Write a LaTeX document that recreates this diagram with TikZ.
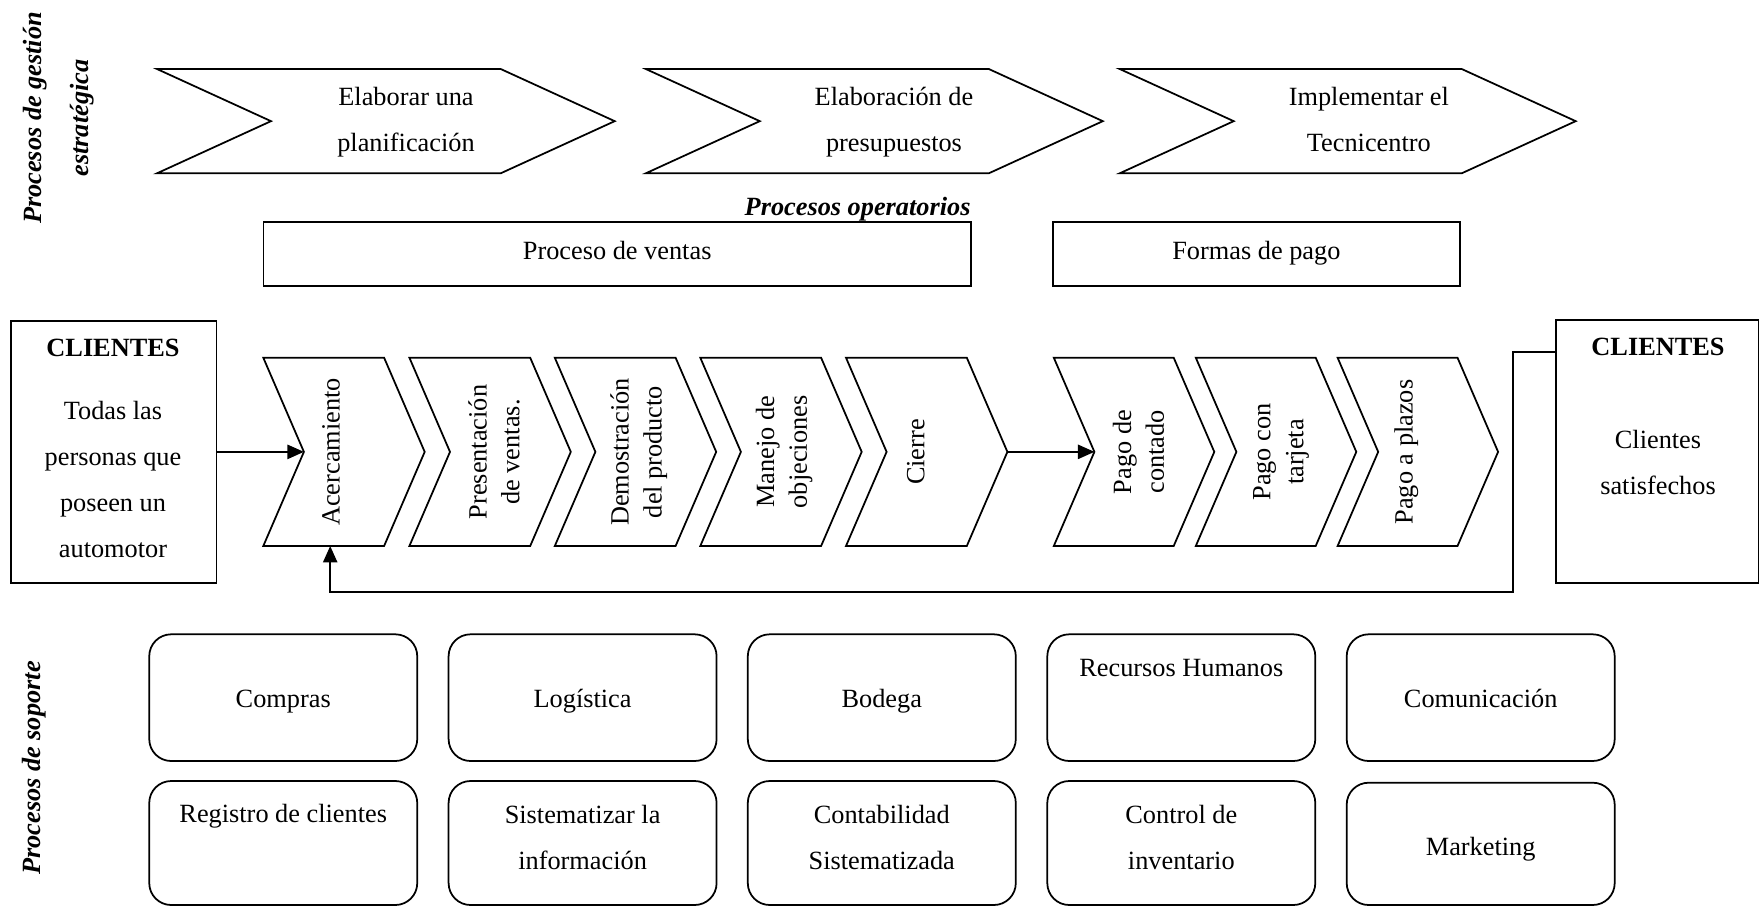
\documentclass[tikz,border=0pt]{standalone}
\usepackage{fontspec}
\setmainfont{Liberation Serif}
\usetikzlibrary{arrows.meta}
\def\pxunit{0.456pt}
\newcommand{\sst}{\rule[-3pt]{0pt}{13.6pt}}
\newcommand{\chevshape}[6]{%
  \draw[shapeline] (#2,#3) -- ({#2+#4-#6},#3) -- ({#2+#4},{#3+#5/2}) -- ({#2+#4-#6},{#3+#5}) -- (#2,{#3+#5}) -- ({#2+#6},{#3+#5/2}) -- cycle;
  \coordinate (#1-n) at ({#2+#6},{#3+#5/2});
  \coordinate (#1-t) at ({#2+#4},{#3+#5/2});
}
\begin{document}
\begin{tikzpicture}[x=0.456pt, y=-0.456pt,
  every node/.style={font=\fontsize{12}{21}\selectfont},
  shapeline/.style={draw=black, line width=0.8pt},
  box/.style={draw, line width=0.8pt, inner sep=0pt, outer sep=0pt},
  soft/.style={box, rounded corners=10pt, minimum width=268*\pxunit},
  lbl/.style={align=center, inner sep=0pt, execute at begin node=\sst, execute at end node=\sst},
  vlbl/.style={align=center, inner sep=0pt, rotate=90, font=\fontsize{12}{15}\selectfont},
  side/.style={align=center, inner sep=0pt, rotate=90, font=\fontsize{12}{21.8}\selectfont\bfseries\itshape},
  arr/.style={line width=0.8pt, -{Triangle[length=7.5pt,width=6.5pt]}}
]
\useasboundingbox (0,0) rectangle (1759,906);

% side labels
\node[side] (lg) at (58.7,118) {Procesos de gestión\\estratégica};
\node[side] (ls) at (34.4,768) {Procesos de soporte};

% strategic chevrons
\chevshape{g1}{157}{69}{457.7}{104.3}{114}
\chevshape{g2}{645.8}{69}{457}{104.3}{114}
\chevshape{g3}{1119.7}{69}{456}{104.3}{114}
\node[lbl] (g1t) at (406,122.7) {Elaborar una\\planificación};
\node[lbl] (g2t) at (894,122.7) {Elaboración de\\presupuestos};
\node[lbl] (g3t) at (1368.8,122.7) {Implementar el\\Tecnicentro};

% operative
\node[lbl, anchor=east, font=\fontsize{12}{14}\selectfont\bfseries\itshape] (op) at (971,206.8) {Procesos operatorios};
\node[box, minimum width=707.6*\pxunit, minimum height=63.4*\pxunit] (pv) at (617.2,254) {};
\node[lbl] (pvt) at (617.2,251) {Proceso de ventas};
\node[box, minimum width=406.7*\pxunit, minimum height=63.4*\pxunit] (fp) at (1256.4,254) {};
\node[lbl] (fpt) at (1256.4,251) {Formas de pago};

% clients boxes
\node[box, minimum width=205.9*\pxunit, minimum height=262.6*\pxunit] (cl) at (113.6,452) {};
\node[lbl, font=\fontsize{12}{14}\selectfont\bfseries] (clh) at (113,347.7) {CLIENTES};
\node[lbl] (clb) at (113,482.5) {Todas las\\personas que\\poseen un\\automotor};
\node[box, minimum width=203*\pxunit, minimum height=262.7*\pxunit] (cr) at (1657.4,451.3) {};
\node[lbl, font=\fontsize{12}{14}\selectfont\bfseries] (crh) at (1658,346.7) {CLIENTES};
\node[lbl] (crb) at (1658,466) {Clientes\\satisfechos};

% vertical chevrons
\chevshape{v1}{263.3}{357.7}{161.4}{188.3}{40.6}
\chevshape{v2}{409.4}{357.7}{161.4}{188.3}{40.6}
\chevshape{v3}{554.8}{357.7}{161.4}{188.3}{40.6}
\chevshape{v4}{700.3}{357.7}{161.4}{188.3}{40.6}
\chevshape{v5}{846.0}{357.7}{161.4}{188.3}{40.6}
\chevshape{v6}{1053.8}{357.7}{160.5}{188.3}{40.6}
\chevshape{v7}{1195.8}{357.7}{160.5}{188.3}{40.6}
\chevshape{v8}{1337.6}{357.7}{160.5}{188.3}{40.6}
\node[vlbl] (v1t) at (331,452) {Acercamiento};
\node[vlbl] (v2t) at (494,452) {Presentación\\de ventas.};
\node[vlbl] (v3t) at (638.7,452) {Demostración\\del producto};
\node[vlbl] (v4t) at (784.2,452) {Manejo de\\objeciones};
\node[vlbl] (v5t) at (915.7,452) {Cierre};
\node[vlbl] (v6t) at (1138.5,452) {Pago de\\contado};
\node[vlbl] (v7t) at (1281.1,452) {Pago con\\tarjeta};
\node[vlbl] (v8t) at (1406.3,452) {Pago a plazos};

% arrows
\draw[arr] (cl.east) -- (v1-n);
\draw[arr] (v5-t) -- (v6-n);
\coordinate (fb1) at (1513.2,352);
\coordinate (fb2) at (1513.2,591.7);
\coordinate (fbe) at (330.2,546);
\draw[arr] (cr.west |- fb1) -- (fb1) -- (fb2) -- (fbe |- fb2) -- (fbe);

% support boxes
\node[soft, minimum height=126.7*\pxunit] (s11) at (283.25,697.65) {};
\node[soft, minimum height=126.7*\pxunit] (s12) at (582.6,697.65) {};
\node[soft, minimum height=126.7*\pxunit] (s13) at (881.8,697.65) {};
\node[soft, minimum height=126.7*\pxunit] (s14) at (1181.3,697.65) {};
\node[soft, minimum height=126.7*\pxunit] (s15) at (1480.7,697.65) {};
\node[soft, minimum height=124*\pxunit] (s21) at (283.25,843) {};
\node[soft, minimum height=124*\pxunit] (s22) at (582.6,843) {};
\node[soft, minimum height=124*\pxunit] (s23) at (881.8,843) {};
\node[soft, minimum height=124*\pxunit] (s24) at (1181.3,843) {};
\node[soft, minimum height=122.3*\pxunit] (s25) at (1480.7,843.85) {};

\node[lbl] (t11) at (283.25,699) {Compras};
\node[lbl] (t12) at (582.6,699) {Logística};
\node[lbl] (t13) at (881.8,699) {Bodega};
\node[lbl] (t14) at (1181.3,668.3) {Recursos Humanos};
\node[lbl] (t15) at (1480.7,699) {Comunicación};
\node[lbl] (t21) at (283.25,814.3) {Registro de clientes};
\node[lbl] (t22) at (582.6,841) {Sistematizar la\\información};
\node[lbl] (t23) at (881.8,841) {Contabilidad\\Sistematizada};
\node[lbl] (t24) at (1181.3,841) {Control de\\inventario};
\node[lbl] (t25) at (1480.7,846.7) {Marketing};
\end{tikzpicture}
\end{document}
